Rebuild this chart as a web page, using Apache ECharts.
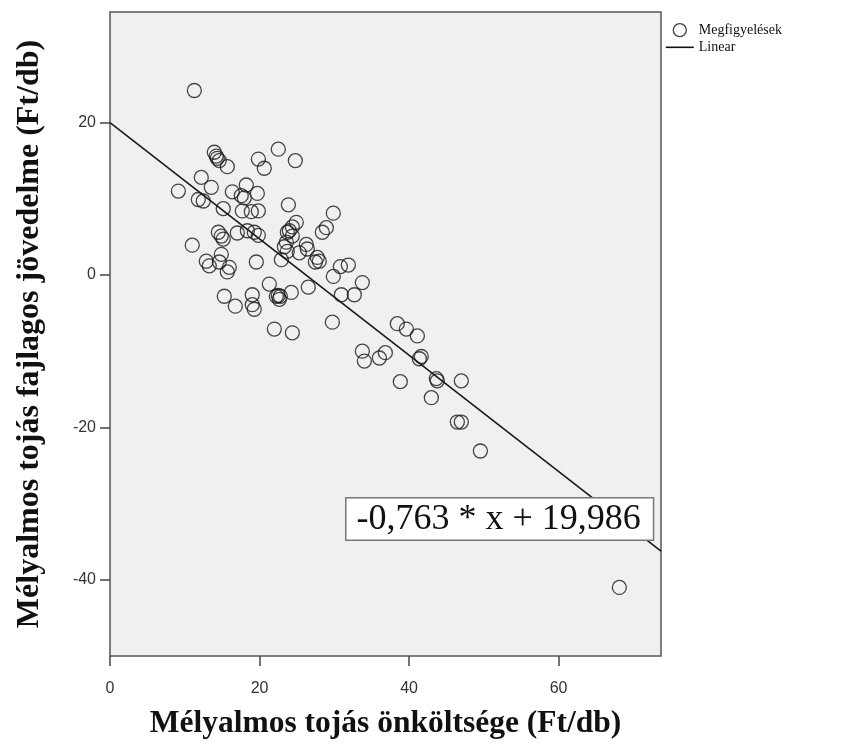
<!DOCTYPE html>
<html>
<head>
<meta charset="utf-8">
<script src="https://cdn.jsdelivr.net/npm/echarts@6/dist/echarts.min.js"></script>
<style>html,body{margin:0;padding:0;background:#fff}#c{width:854px;height:745px}</style>
</head>
<body>
<div id="c"></div>
<script>
// Observed points: x = Mélyalmos tojás önköltsége (Ft/db), y = fajlagos jövedelme (Ft/db)
const costX = [11.28,13.95,14.22,14.35,14.62,15.69,19.84,20.64,22.51,24.79,
  9.14,12.21,13.55,11.81,12.48,15.15,16.36,18.23,17.56,17.96,
  19.71,17.70,18.9,19.84,23.86,29.87,11.0,14.49,14.89,15.15,
  17.03,18.37,19.30,19.84,12.88,13.28,14.89,14.62,15.96,15.69,
  19.57,22.92,24.92,24.39,23.99,23.59,23.32,23.72,26.26,26.39,
  25.32,27.73,27.99,27.47,28.40,28.94,30.81,31.88,29.87,33.75,
  26.52,21.31,22.25,22.65,22.5,24.25,15.29,16.76,19.03,19.03,
  19.30,21.98,24.39,29.74,30.94,32.68,33.75,34.02,36.03,36.83,
  38.43,39.64,41.11,41.38,41.64,38.83,43.65,43.78,46.99,42.98,
  46.46,46.99,49.54,68.13,22.78,24.39,23.72];
const incomeY = [24.2,16.1,15.6,15.3,15.0,14.2,15.2,14.0,16.5,15.0,
  11.0,12.8,11.5,9.9,9.7,8.7,10.9,11.8,10.4,10.1,
  10.7,8.4,8.3,8.4,9.2,8.1,3.9,5.6,5.1,4.7,
  5.5,5.8,5.6,5.2,1.8,1.2,2.7,1.7,1.0,0.4,
  1.7,2.0,6.9,6.3,5.8,4.3,3.7,3.1,4.0,3.4,
  2.9,2.3,1.8,1.7,5.6,6.2,1.1,1.3,-0.2,-1.0,
  -1.6,-1.2,-2.8,-3.2,-2.7,-2.3,-2.8,-4.1,-2.6,-3.9,
  -4.5,-7.1,-7.6,-6.2,-2.6,-2.6,-10.0,-11.3,-10.9,-10.2,
  -6.4,-7.1,-8.0,-11.0,-10.7,-14.0,-13.6,-13.9,-13.9,-16.1,
  -19.3,-19.3,-23.1,-41.0,-2.8,5.1,5.6];
// Fitted linear model
const slope = -0.763;
const intercept = 19.986;
const xTicks = [0, 20, 40, 60];
const yTicks = [-40, -20, 0, 20];
const xMin = 0, xMax = 73.7, yMin = -50, yMax = 34.5;
const equationText = '-0,763 * x + 19,986';

const points = costX.map((x, i) => [x, incomeY[i]]);
const fitLine = [[xMin, intercept + slope * xMin], [xMax, intercept + slope * xMax]];

const chart = echarts.init(document.getElementById('c'), null, {renderer: 'canvas'});
const tickFont = {fontFamily: 'Liberation Sans', fontSize: 16, color: '#333'};
chart.setOption({
  animation: false,
  backgroundColor: '#fff',
  grid: {left: 110, top: 12, width: 551, height: 645, show: true,
    backgroundColor: '#f0f0f0', borderColor: '#555', borderWidth: 1.5},
  legend: {
    orient: 'vertical', left: 660, top: 18, itemGap: 3, itemWidth: 28, itemHeight: 13,
    textStyle: {fontFamily: 'Liberation Serif', fontSize: 14, color: '#111'},
    data: [
      {name: 'Megfigyelések', icon: 'circle', itemStyle: {color: 'transparent', borderColor: '#111', borderWidth: 1.3}},
      {name: 'Linear', itemStyle: {color: 'transparent', borderColor: 'transparent', borderWidth: 0},
       lineStyle: {color: '#111', width: 1.6}}
    ]
  },
  xAxis: {
    type: 'value', min: xMin, max: xMax,
    name: 'Mélyalmos tojás önköltsége (Ft/db)', nameLocation: 'middle', nameGap: 52,
    nameTextStyle: {fontFamily: 'Liberation Serif', fontWeight: 'bold', fontSize: 31.5, color: '#111'},
    axisLine: {show: false, onZero: false},
    axisTick: {show: true, length: 10, customValues: xTicks, lineStyle: {color: '#444', width: 1.5}},
    axisLabel: {customValues: xTicks, margin: 25, ...tickFont},
    splitLine: {show: false}
  },
  yAxis: {
    type: 'value', min: yMin, max: yMax,
    name: 'Mélyalmos tojás fajlagos jövedelme (Ft/db)', nameLocation: 'middle', nameGap: 64,
    nameTextStyle: {fontFamily: 'Liberation Serif', fontWeight: 'bold', fontSize: 32, color: '#111'},
    axisLine: {show: false, onZero: false},
    axisTick: {show: true, length: 10, customValues: yTicks, lineStyle: {color: '#444', width: 1.5}},
    axisLabel: {customValues: yTicks, margin: 14, ...tickFont},
    splitLine: {show: false}
  },
  series: [
    {
      name: 'Megfigyelések', type: 'scatter', data: points, symbol: 'circle', symbolSize: 14,
      itemStyle: {color: 'transparent', borderColor: '#1a1a1a', borderWidth: 1.3}, z: 3
    },
    {
      name: 'Linear', type: 'line', data: fitLine, symbol: 'none',
      lineStyle: {color: '#1a1a1a', width: 1.6}, itemStyle: {color: '#1a1a1a'}, z: 2
    }
  ],
  graphic: [{
    type: 'text', left: 345, top: 497, z: 10,
    style: {
      text: equationText, font: '36px "Liberation Serif"', fill: '#111',
      backgroundColor: '#fff', borderColor: '#777', borderWidth: 1.5,
      padding: [3, 12, 2, 10]
    }
  }]
});
</script>
</body>
</html>
